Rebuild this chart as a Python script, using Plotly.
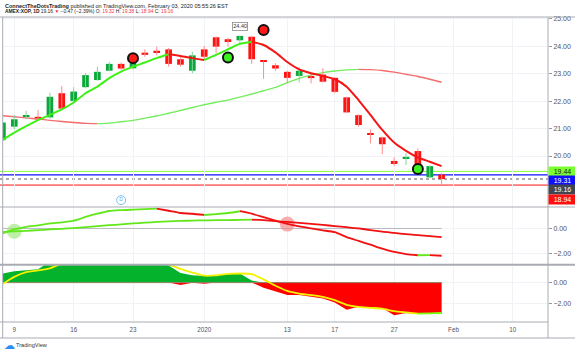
import numpy as np
import plotly.graph_objects as go

# ---------------- data ----------------
dates = ["2019-12-06","2019-12-09","2019-12-10","2019-12-11","2019-12-12","2019-12-13",
         "2019-12-16","2019-12-17","2019-12-18","2019-12-19","2019-12-20","2019-12-23",
         "2019-12-24","2019-12-26","2019-12-27","2019-12-30","2019-12-31","2020-01-02",
         "2020-01-03","2020-01-06","2020-01-07","2020-01-08","2020-01-09","2020-01-10",
         "2020-01-13","2020-01-14","2020-01-15","2020-01-16","2020-01-17","2020-01-21",
         "2020-01-22","2020-01-23","2020-01-24","2020-01-27","2020-01-28","2020-01-29",
         "2020-01-30","2020-01-31"]
open_ = [20.58,21.07,21.45,21.43,21.41,22.29,22.01,22.51,22.77,23.11,23.36,23.20,
         23.77,23.84,23.89,23.53,23.11,23.89,24.33,24.26,24.22,24.35,23.45,23.31,
         23.07,22.92,22.92,22.97,22.85,22.14,21.49,20.82,20.68,19.82,19.90,20.18,
         19.22,19.32]
high = [21.25,21.50,21.65,21.68,22.31,22.55,22.51,23.02,23.26,23.43,23.41,23.55,
        23.89,23.99,23.94,23.60,23.80,24.01,24.36,24.31,24.40,24.38,23.48,23.38,
        23.11,23.24,23.02,23.20,22.88,22.16,21.52,20.97,20.70,19.95,20.10,20.28,
        19.65,19.38]
low = [20.52,20.97,21.34,21.30,21.36,21.68,21.97,22.47,22.75,23.09,23.14,23.15,
       23.62,23.67,23.26,23.26,23.02,23.50,23.75,23.99,24.04,23.36,22.82,23.11,
       22.65,22.68,22.65,22.68,22.29,21.57,21.07,20.46,20.07,19.64,19.67,19.58,
       19.20,18.94]
close = [21.22,21.34,21.49,21.34,22.16,21.73,22.35,22.95,23.07,23.36,23.19,23.50,
         23.69,23.77,23.36,23.33,23.67,23.62,23.99,24.19,24.38,23.53,23.43,23.19,
         22.85,23.11,22.84,22.71,22.34,21.59,21.13,20.79,20.43,19.71,19.97,19.67,
         19.63,19.16]
fast_ma = [20.58,20.85,21.09,21.31,21.50,21.70,21.95,22.29,22.53,22.84,23.08,23.26,
           23.41,23.57,23.71,23.65,23.57,23.50,23.69,23.89,24.09,24.17,24.05,23.78,
           23.43,23.16,23.02,22.92,22.80,22.53,22.04,21.50,20.95,20.49,20.19,19.95,
           19.79,19.63]
slow_ma = [21.47,21.43,21.39,21.35,21.30,21.26,21.22,21.19,21.18,21.20,21.25,21.30,
           21.38,21.46,21.56,21.66,21.77,21.87,21.96,22.04,22.15,22.26,22.38,22.50,
           22.68,22.83,22.95,23.04,23.10,23.14,23.16,23.15,23.12,23.06,22.98,22.90,
           22.80,22.69]
osc_fast = [-0.40,-0.08,0.13,0.25,0.40,0.48,0.62,0.92,1.18,1.40,1.47,1.51,1.55,1.59,
            1.42,1.24,1.18,1.08,1.15,1.24,1.38,1.18,0.90,0.62,0.36,0.16,0.00,-0.15,
            -0.30,-0.70,-1.00,-1.30,-1.62,-1.88,-2.05,-2.15,-2.14,-2.19]
osc_slow = [-0.27,-0.23,-0.19,-0.14,-0.08,-0.03,0.03,0.11,0.19,0.26,0.32,0.40,0.46,
            0.52,0.56,0.60,0.63,0.65,0.66,0.67,0.69,0.71,0.66,0.59,0.52,0.44,0.36,
            0.28,0.19,0.10,0.00,-0.13,-0.26,-0.36,-0.46,-0.54,-0.62,-0.70]
hist_pos = [0.86,1.07,1.16,1.25,2.0,2.3,2.5,2.6,2.6,2.5,2.4,2.3,2.2,2.0,1.62,0.90,
            0.70,0.63,0.70,0.80,0.86,0.20,0,0,0,0,0,0,0,0,0,0,0,0,0,0,0,0]
hist_neg = [0,0,0,0,0,0,0,0,0,0,0,0,0,0,0,-0.23,-0.02,-0.10,0,0,0,0,-0.48,-0.84,
            -1.16,-1.16,-1.30,-1.50,-1.88,-2.56,-2.28,-2.34,-2.40,-3.09,-2.88,-2.96,
            -2.96,-2.96]
signal = [-0.14,0.54,0.98,1.15,1.35,1.8,2.0,2.2,2.3,2.4,2.4,2.3,2.2,2.0,1.7,1.30,
          0.95,0.65,0.68,0.82,0.86,0.80,0.30,-0.30,-0.79,-1.04,-1.18,-1.35,-1.66,
          -2.10,-2.30,-2.38,-2.46,-2.70,-2.82,-2.93,-2.90,-2.87]
signal_green_from = "2020-01-29"

sell_dates = ["2019-12-23", "2020-01-09"]
sell_vals = [23.57, 24.60]
buy_dates = ["2020-01-06", "2020-01-29"]
buy_vals = [23.59, 19.53]
cross_up_date, cross_up_val = "2019-12-09", -0.22
cross_dn_date, cross_dn_val = "2020-01-13", 0.35
dividend_date, dividend_val = "2019-12-20", 18.39
high_label = "24.40"
high_label_date = "2020-01-07"

level_vals = [19.44, 19.31, 19.16, 18.94]
level_text = ["19.44", "19.31", "19.16", "18.94"]

tick_dates = ["2019-12-09","2019-12-16","2019-12-23","2020-01-02","2020-01-13",
              "2020-01-17","2020-01-27","2020-02-03","2020-02-10"]
tick_text = ["9","16","23","2020","13","17","27","Feb","10"]
price_ticks = [20, 21, 22, 23, 24, 25]
osc_ticks = [0, -2]

# ---------------- helpers ----------------
N = len(dates)
xi = list(range(N))

def idx(d):
    if d in dates:
        return dates.index(d)
    return N - 1 + int(np.busday_count(dates[-1], d))

W, H = 575, 352
ML, MR, MT, MB = 3, 27, 17, 30
PW, PH = W - ML - MR, H - MT - MB

def px(xpix):
    return (xpix - ML) / PW

def py(ypix):
    return (H - MB - ypix) / PH

FONT = "Liberation Sans"
UP, DN = "#0aa83a", "#ff1212"
UPW, DNW = "#86d39a", "#ff8a8a"

fig = go.Figure()

def colored_line(x, y, up_c, dn_c, width, yaxis, colors=None):
    if colors is None:
        colors = [up_c if y[i + 1] >= y[i] else dn_c for i in range(len(y) - 1)]
    start = 0
    for i in range(1, len(colors) + 1):
        if i == len(colors) or colors[i] != colors[start]:
            fig.add_trace(go.Scatter(x=x[start:i + 1], y=y[start:i + 1], mode="lines",
                                     line=dict(color=colors[start], width=width,
                                               shape="spline", smoothing=0.6),
                                     yaxis=yaxis, hoverinfo="skip"))
            start = i

# ---- main pane ----
colored_line(xi, slow_ma, "#74ee5e", "#f46c6c", 1.4, "y")

for want_up, col in [(True, UPW), (False, DNW)]:
    wx, wy = [], []
    for i in range(N):
        if (close[i] >= open_[i]) == want_up:
            wx += [i, i, None]
            wy += [low[i], high[i], None]
    fig.add_trace(go.Scatter(x=wx, y=wy, mode="lines", line=dict(color=col, width=1),
                             yaxis="y", hoverinfo="skip"))

body_base = [min(o, c) for o, c in zip(open_, close)]
body_h = [max(abs(c - o), 0.04) for o, c in zip(open_, close)]
body_col = [UP if c >= o else DN for o, c in zip(open_, close)]
fig.add_trace(go.Bar(x=xi, y=body_h, base=body_base, width=0.56,
                     marker=dict(color=body_col, line=dict(width=0)), yaxis="y",
                     hoverinfo="skip"))

colored_line(xi, fast_ma, "#3ef014", "#f41515", 2, "y")

fig.add_trace(go.Scatter(x=[idx(d) for d in sell_dates], y=sell_vals, mode="markers",
                         marker=dict(size=10, color="#ff1a1a", line=dict(color="#111", width=2)),
                         yaxis="y", hoverinfo="skip"))
fig.add_trace(go.Scatter(x=[idx(d) for d in buy_dates], y=buy_vals, mode="markers",
                         marker=dict(size=10, color="#3cf01e", line=dict(color="#111", width=2)),
                         yaxis="y", hoverinfo="skip"))
fig.add_trace(go.Scatter(x=[idx(dividend_date)], y=[dividend_val], mode="markers+text",
                         text=["D"], textposition="middle center",
                         textfont=dict(size=5, color="#5aaef0", family=FONT),
                         marker=dict(size=9, color="white", line=dict(color="#7cc0f5", width=1)),
                         yaxis="y", hoverinfo="skip"))

# ---- oscillator pane ----
fig.add_trace(go.Scatter(x=xi, y=[0] * N, mode="lines", line=dict(color="#b6b8c0", width=1),
                         yaxis="y2", hoverinfo="skip"))
fig.add_trace(go.Scatter(x=[idx(cross_up_date)], y=[cross_up_val], mode="markers",
                         marker=dict(size=15, color="rgba(150,230,110,0.6)"),
                         yaxis="y2", hoverinfo="skip"))
fig.add_trace(go.Scatter(x=[idx(cross_dn_date)], y=[cross_dn_val], mode="markers",
                         marker=dict(size=15, color="rgba(245,130,130,0.65)"),
                         yaxis="y2", hoverinfo="skip"))
colored_line(xi, osc_slow, "#62e81a", "#f01010", 1.8, "y2")
colored_line(xi, osc_fast, "#62e81a", "#f01010", 1.8, "y2")

# ---- histogram pane ----
fig.add_trace(go.Scatter(x=xi, y=hist_pos, mode="lines", fill="tozeroy",
                         fillcolor="#05b22c", line=dict(width=0, color="#05b22c"),
                         yaxis="y3", hoverinfo="skip"))
fig.add_trace(go.Scatter(x=xi, y=hist_neg, mode="lines", fill="tozeroy",
                         fillcolor="#ff0000", line=dict(width=0, color="#ff0000"),
                         yaxis="y3", hoverinfo="skip"))
fig.add_trace(go.Scatter(x=xi, y=[0] * N, mode="lines", line=dict(color="#8f8262", width=1),
                         yaxis="y3", hoverinfo="skip"))
g0 = idx(signal_green_from)
sig_cols = ["#f2f200" if i < g0 else "#7cff10" for i in range(N - 1)]
colored_line(xi, signal, None, None, 1.8, "y3", colors=sig_cols)

# ---------------- layout ----------------
GRID = "#f0f2f6"
axis_font = dict(size=7, color="#50535e", family=FONT)
x_left = (ML - 2.43) / 11.87
x_right = (W - MR - 2.43) / 11.87

yax = dict(side="right", anchor="x", showgrid=True, gridcolor=GRID, zeroline=False,
           ticks="outside", ticklen=3, tickcolor="#9598a1", tickfont=axis_font,
           showline=False, fixedrange=True)

fig.update_layout(
    width=W, height=H, margin=dict(l=ML, r=MR, t=MT, b=MB, autoexpand=False),
    paper_bgcolor="white", plot_bgcolor="white", showlegend=False,
    barmode="overlay", font=dict(family=FONT),
    xaxis=dict(domain=[0, 1], anchor="y3", range=[x_left, x_right],
               tickvals=[idx(d) for d in tick_dates], ticktext=tick_text,
               showgrid=True, gridcolor=GRID, zeroline=False, showline=False,
               ticks="", tickfont=dict(size=6.3, color="#50535e", family=FONT),
               ticklabelstandoff=3, fixedrange=True),
    yaxis=dict(yax, domain=[py(207), 1], range=[18.14, 25.07], tickvals=price_ticks,
               ticktext=[f"{v:.2f}" for v in price_ticks]),
    yaxis2=dict(yax, domain=[py(264.5), py(207)], range=[-2.89, 1.72], tickvals=osc_ticks,
                ticktext=[f"{v:.2f}".replace("-", "\u2212") for v in osc_ticks]),
    yaxis3=dict(yax, domain=[0, py(264.5)], range=[-3.72, 1.71], tickvals=osc_ticks,
                ticktext=[f"{v:.2f}".replace("-", "\u2212") for v in osc_ticks]),
)

shapes = []
lvl_styles = [dict(color="#7cff30", width=1), dict(color="#1010ff", width=1.2),
              dict(color="#555", width=1, dash="dot"), dict(color="#ff1010", width=1)]
for v, st in zip(level_vals, lvl_styles):
    shapes.append(dict(type="line", xref="paper", yref="y", x0=px(0), x1=1, y0=v, y1=v,
                       line=st, layer="between"))
frame = "#a9abb3"
bottom = py(338)
shapes += [
    dict(type="line", xref="paper", yref="paper", x0=px(0), x1=px(W), y0=1, y1=1,
         line=dict(color=frame, width=1)),
    dict(type="line", xref="paper", yref="paper", x0=px(0), x1=px(W), y0=bottom, y1=bottom,
         line=dict(color=frame, width=1)),
    dict(type="line", xref="paper", yref="paper", x0=1, x1=1, y0=bottom, y1=1,
         line=dict(color=frame, width=1)),
    dict(type="line", xref="paper", yref="paper", x0=px(2.7), x1=px(2.7), y0=bottom, y1=1,
         line=dict(color=frame, width=1)),
    dict(type="line", xref="paper", yref="paper", x0=px(0), x1=px(W), y0=py(207), y1=py(207),
         line=dict(color=frame, width=1)),
    dict(type="line", xref="paper", yref="paper", x0=px(0), x1=px(W), y0=py(264.8), y1=py(264.8),
         line=dict(color=frame, width=2)),
    dict(type="line", xref="paper", yref="paper", x0=px(0), x1=1, y0=0, y1=0,
         line=dict(color=frame, width=1)),
]
fig.update_layout(shapes=shapes)

ann = []
tag_bg = ["#7cff30", "#1010ff", "#434651", "#ff1010"]
tag_fg = ["#1a1a1a", "white", "white", "white"]
tag_shift = [0, -5.6, -10.5, -14]
for v, t, bg, fg, sh in zip(level_vals, level_text, tag_bg, tag_fg, tag_shift):
    ann.append(dict(xref="paper", yref="y", x=1, y=v, xanchor="left", yanchor="middle",
                    yshift=sh, text=t, showarrow=False, bgcolor=bg, width=25, height=7,
                    borderpad=1, align="center", font=dict(size=7, color=fg, family=FONT)))
ann.append(dict(xref="x", yref="y", x=idx(high_label_date), y=float(high_label),
                yshift=9, text=high_label, showarrow=False, bgcolor="white",
                bordercolor="#8a8a8a", borderwidth=0.8, borderpad=0.5,
                font=dict(size=5.5, color="#333", family=FONT)))
red = "#f23645"
ann.append(dict(xref="paper", yref="paper", x=px(3), y=py(5.5), xanchor="left",
                yanchor="middle", showarrow=False, align="left",
                text="<b>ConnectTheDotsTrading</b> published on TradingView.com, "
                     "February 03, 2020 05:55:26 EST",
                font=dict(size=5.5, color="#222", family=FONT)))
ann.append(dict(xref="paper", yref="paper", x=px(3), y=py(11.5), xanchor="left",
                yanchor="middle", showarrow=False, align="left",
                text=f"<b>AMEX:XOP, 1D</b> 19.16 <span style='color:{red}'>\u25bc</span> "
                     f"\u22120.47 (\u22122.39%) O: <span style='color:{red}'>19.32</span> "
                     f"H: <span style='color:{red}'>19.38</span> "
                     f"L: <span style='color:{red}'>18.94</span> "
                     f"C: <span style='color:{red}'>19.16</span>",
                font=dict(size=4.9, color="#222", family=FONT)))
ann.append(dict(xref="paper", yref="paper", x=px(2), y=py(345), xanchor="left",
                yanchor="middle", showarrow=False, text="\u2601",
                font=dict(size=11, color="#2a8ff0", family="DejaVu Sans")))
ann.append(dict(xref="paper", yref="paper", x=px(14), y=py(345), xanchor="left",
                yanchor="middle", showarrow=False, text="TradingView",
                font=dict(size=5.6, color="#333", family=FONT)))
fig.update_layout(annotations=ann)

fig.write_html("out.html")
